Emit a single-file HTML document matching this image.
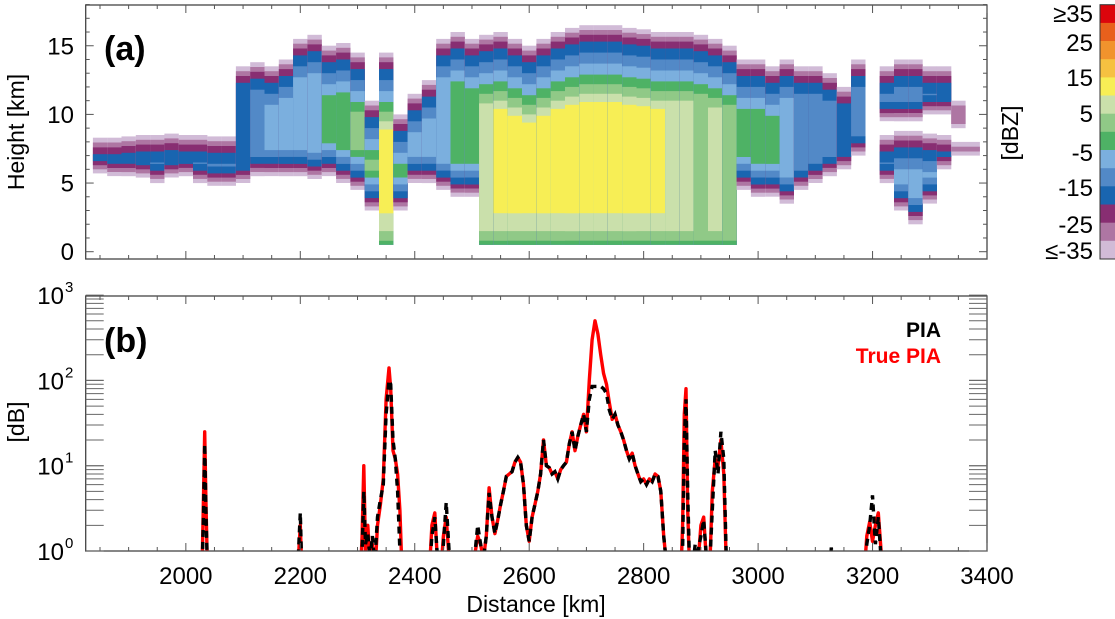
<!DOCTYPE html>
<html><head><meta charset="utf-8"><style>
html,body{margin:0;padding:0;background:#fff;}
svg{display:block;font-family:"Liberation Sans",Arial,sans-serif;}
</style></head><body>
<svg id="fig" width="1115" height="619" viewBox="0 0 1115 619">
<defs>
<clipPath id="clipA"><rect x="85.7" y="5" width="901.3" height="254"/></clipPath>
<clipPath id="clipB"><rect x="85.7" y="296" width="901.3" height="255"/></clipPath>
</defs>
<g id="heat" clip-path="url(#clipA)"></g>
<g id="axA"></g>
<g id="linesB" clip-path="url(#clipB)"></g>
<g id="axB"></g>
<g id="cbar"></g>
<text x="104" y="60" font-size="34" font-weight="bold">(a)</text>
<text x="104" y="352" font-size="34" font-weight="bold">(b)</text>
<text x="941" y="337" font-size="21" font-weight="bold" text-anchor="end" fill="#000">PIA</text>
<text x="941" y="363" font-size="21" font-weight="bold" text-anchor="end" fill="#ff0000">True PIA</text>
<text transform="translate(24,132) rotate(-90)" font-size="23" text-anchor="middle">Height [km]</text>
<text transform="translate(24,422) rotate(-90)" font-size="23" text-anchor="middle">[dB]</text>
<text x="536" y="612" font-size="23" text-anchor="middle">Distance [km]</text>
<text transform="translate(1018,133) rotate(-90)" font-size="23" text-anchor="middle">[dBZ]</text>
</svg>
<script>
// ---- Panel (a) data: per-column cloud structure ----
const colKm   = [1850,1875,1900,1925,1950,1975,2000,2025,2050,2075,2100,2125,2150,2175,2200,2225,2250,2275,2300,2325,2350,2375,2400,2425,2450,2475,2500,2525,2550,2575,2600,2625,2650,2675,2700,2725,2750,2775,2800,2825,2850,2875,2900,2925,2950,2975,3000,3025,3050,3075,3100,3125,3150,3175,3200,3225,3250,3275,3300,3325,3350,3375];
const colTop  = [8.3,8.3,8.4,8.5,8.5,8.6,8.5,8.5,8.4,8.4,13.5,13.8,13.5,14.0,15.5,15.8,15.0,15.2,14.5,11.0,14.5,10.0,11.5,12.5,15.5,16.0,15.5,15.8,16.0,15.5,15.0,15.5,16.0,16.3,16.5,16.5,16.5,16.3,16.2,16.0,16.0,16.0,15.8,15.5,15.0,14.0,14.0,13.5,14.0,13.5,13.5,13.0,12.0,14.0,0,13.5,14.0,14.0,13.5,13.5,11.0,0];
const colBase = [5.7,5.5,5.5,5.4,5.0,5.4,5.5,5.0,4.8,4.8,5.0,5.5,5.5,5.5,5.5,5.3,5.5,5.0,4.5,3.0,0.5,3.0,5.0,5.0,4.5,4.0,4.0,0.5,0.5,0.5,0.5,0.5,0.5,0.5,0.5,0.5,0.5,0.5,0.5,0.5,0.5,0.5,0.5,0.5,0.5,4.5,4.0,4.0,3.5,4.5,5.0,5.5,6.0,7.0,0,9.5,9.5,9.5,10.0,10.0,9.0,0];
const colPeak = [-15,-15,-15,-15,-15,-15,-15,-10,-10,-10,-20,-15,-10,-10,-10,-10,-5,-5,0,0,10,0,-10,-10,-10,-5,-5,5,10,10,10,10,10,10,10,10,10,10,10,10,5,5,0,5,0,-5,-5,-5,-10,-15,-15,-15,-20,-15,-35,-15,-15,-15,-15,-20,-30,-35];
const col2Top  = [0,0,0,0,0,0,0,0,0,0,0,0,0,0,0,0,0,0,0,0,0,0,0,0,0,0,0,0,0,0,0,0,0,0,0,0,0,0,0,0,0,0,0,0,0,0,0,0,0,0,0,0,0,0,0,8.5,8.8,8.8,8.6,8.5,8.0,8.0];
const col2Base = [0,0,0,0,0,0,0,0,0,0,0,0,0,0,0,0,0,0,0,0,0,0,0,0,0,0,0,0,0,0,0,0,0,0,0,0,0,0,0,0,0,0,0,0,0,0,0,0,0,0,0,0,0,0,0,5.0,3.0,2.0,3.5,6.0,7.0,7.0];
const col2Peak = [-35,-35,-35,-35,-35,-35,-35,-35,-35,-35,-35,-35,-35,-35,-35,-35,-35,-35,-35,-35,-35,-35,-35,-35,-35,-35,-35,-35,-35,-35,-35,-35,-35,-35,-35,-35,-35,-35,-35,-35,-35,-35,-35,-35,-35,-35,-35,-35,-35,-35,-35,-35,-35,-35,-35,-15,-10,-10,-10,-15,-30,-30];
const cbarLabels = ["≥35","25","15","5","-5","-15","-25","≤-35"];
const cbarColors = ["#dc050c","#e8601c","#f1932d","#f6c141","#f7ee55","#cae0ab","#90c987","#4eb265","#7bafde","#5289c7","#1965b0","#882e72","#ae76a3","#d1bbd7"];

// ---- Panel (b) data ----
const piaDist = [1825,2028,2031,2033,2035,2038, 2195,2198,2200,2203, 2255,2258,2261,
 2305,2308,2311,2314,2318,2322,2326,2330,2335,2340,2345,2350,2355,2358,2362,2366,2370,2374,2378,2382,
 2425,2430,2435,2440,2445,2450,2455,2460,2465,
 2500,2505,2510,2515,2520,2525,2530,2535,2540,2545,2550,2555,2560,2565,2570,2575,2580,2585,2590,2595,2600,2605,2610,2615,2620,2625,2630,2635,2640,2645,2650,2655,2660,2665,2670,2675,2680,2685,2690,2695,2700,2705,2710,2715,2720,2725,2730,2735,2740,2745,2750,2755,2760,2765,2770,2775,2780,2785,2790,2795,2800,2805,2810,2815,2820,2825,2830,2835,2840,2845,2850,
 2865,2868,2871,2874,2877,2880,2885,2890,2895,2900,2905,2910,2915,2920,2925,2930,2935,2940,2945,2950,
 3125,3128,3131, 3185,3190,3195,3200,3205,3210,3215,3220, 3400];
const piaValues = [0.5,0.5,3,18,3,0.5, 0.5,1.5,2.8,0.5, 0.5,0.95,0.5,
 0.5,1.0,5,1.2,1.6,0.8,1.5,0.7,2.5,4,6,40,100,90,20,12,5,1,0.5,0.5,
 0.5,1.5,2.5,0.8,0.5,1.2,3.7,1.0,0.5,
 0.5,0.9,2.0,1.2,0.8,1.5,4.8,2.5,1.6,2.3,3.5,5,7.5,8,8.5,11,12.5,11,6,2,1.3,2.5,3.5,5,8,20,10,9.5,8,8.5,7,9,10,11,18,25,15,22,30,40,25,60,85,85,85,85,80,70,45,35,40,30,25,20,15,12,14,10,8,6.5,7,6,7,6.5,8,7.5,5,1.5,0.7,0.5,0.5,
 0.5,1,20,60,5,0.8,0.6,1.2,1.0,1.5,2.3,0.8,0.6,3,15,8,25,12,0.6,0.5,
 0.5,1.1,0.5, 0.5,1.2,2,4.5,1.2,2.5,0.8,0.5, 0.5];
const truePiaValues = [0.5,0.5,5,25,4,0.5, 0.5,1.2,2,0.5, 0.5,0.5,0.5,
 0.5,1.5,10,1.0,2,0.7,1.2,0.5,2,3.5,7,60,140,80,15,12,8,3,0.5,0.5,
 0.5,2,2.8,0.7,0.5,1.5,2.5,0.8,0.5,
 0.5,0.9,1.5,1.2,0.8,1.5,5.5,2.5,1.6,2.3,3.5,5,7.5,8,8.5,11,12.5,11,6,2,1.3,2.5,3.5,5,8,20,10,9.5,8,8.5,7,9,10,11,18,25,15,22,30,40,25,100,300,500,350,200,120,90,55,35,40,30,25,20,15,12,14,10,8,6.5,7,6,7,6.5,8,7.5,5,1.5,0.7,0.5,0.5,
 0.5,2,40,80,3,0.7,0.5,1,0.7,2,2.5,0.7,0.5,5,12,10,20,8,0.5,0.5,
 0.5,0.5,0.5, 0.5,1.5,2.2,1.3,2,2.8,1.0,0.5, 0.5];
const xTickLabels = [2000,2200,2400,2600,2800,3000,3200,3400];
const hTickLabels = [0,5,10,15];
const logTickLabels = [0,1,2,3];

const NS = "http://www.w3.org/2000/svg";
const X0 = 85.7, X1 = 987, KM0 = 1825, KM1 = 3400;
function xs(km){ return X0 + (km-KM0)*(X1-X0)/(KM1-KM0); }
function ya(h){ return 251.7 - h*13.73; }
function yb(v){ return 551 - 85.3*Math.log10(Math.max(v,0.5)); }
function mk(tag, attrs, parent){ const e=document.createElementNS(NS,tag); for(const k in attrs) e.setAttribute(k,attrs[k]); parent.appendChild(e); return e; }
const binColors = cbarColors.slice().reverse(); // index 0 = <=-35
// inset (km) from cloud top per reflectivity level
const topInset = [0,0.35,0.7,1.2,2.0,2.8,3.6,4.3,5.0,5.6,6.2,6.6,7,7.4];
const baseInset = [0,0.3,0.6,0.9,1.4,1.9,2.4,2.9,3.3,3.7,4,4.3,4.6,4.9];
const surfInset = [0,0,0,0,0,0,0,0.3,1.0,2.3,3,3.5,4,4.5];

// heatmap
const heat = document.getElementById('heat');
function drawColumn(i, top, base, peak){
  if(top<=0) return;
  const maxIdx = Math.min(13, Math.floor((peak+35)/5));
  const xL = xs(colKm[i]-12.5), xR = xs(colKm[i]+12.6);
  for(let L=0; L<=maxIdx; L++){
    const t = top - topInset[L];
    const b = base<=0.6 ? 0.5 + surfInset[L] : base + baseInset[L];
    if(t<=b) break;
    const r = mk('rect',{x:xL.toFixed(1),y:ya(t).toFixed(1),width:(xR-xL).toFixed(1),height:(ya(b)-ya(t)).toFixed(1),fill:binColors[L]},heat);
    
    
  }
}
for(let i=0;i<colKm.length;i++){
  drawColumn(i,colTop[i],colBase[i],colPeak[i]);
  drawColumn(i,col2Top[i],col2Base[i],col2Peak[i]);
}

// axes helper
function frame(g, top, bottom){
  const r = mk('rect',{x:X0,y:top,width:X1-X0,height:bottom-top,fill:'none',stroke:'#444','stroke-width':1.3},g);
  
  
  for(let km=1850; km<=3400; km+=50){
    const major = km%200===0;
    const len = major?8:4;
    mk('line',{x1:xs(km),x2:xs(km),y1:bottom,y2:bottom-len,stroke:'#555','stroke-width':1},g);
    mk('line',{x1:xs(km),x2:xs(km),y1:top,y2:top+len,stroke:'#555','stroke-width':1},g);
  }
}
const axA = document.getElementById('axA');
frame(axA,5,259);
for(let h=0; h<=18; h++){
  const len = h%5===0?8:4;
  mk('line',{x1:X0,x2:X0+len,y1:ya(h),y2:ya(h),stroke:'#555','stroke-width':1},axA);
  mk('line',{x1:X1,x2:X1-len,y1:ya(h),y2:ya(h),stroke:'#555','stroke-width':1},axA);
}
hTickLabels.forEach(h=>{
  const t = mk('text',{x:74,y:ya(h)+8.5,'font-size':24,'text-anchor':'end'},axA);
  t.textContent = h;
  
  
});

const axB = document.getElementById('axB');
frame(axB,296,551);
for(let d=0; d<3; d++){
  for(let m=1; m<=10; m++){
    const y = yb(m*Math.pow(10,d));
    mk('line',{x1:X0,x2:X0+18,y1:y,y2:y,stroke:'#666','stroke-width':1},axB);
    mk('line',{x1:X1,x2:X1-18,y1:y,y2:y,stroke:'#666','stroke-width':1},axB);
  }
}
logTickLabels.forEach(p=>{
  const t = mk('text',{x:64,y:yb(Math.pow(10,p))+9,'font-size':24,'text-anchor':'end'},axB);
  t.textContent = '10';
  
  
  const s = mk('text',{x:65,y:yb(Math.pow(10,p))-3,'font-size':15,'text-anchor':'start'},axB);
  s.textContent = p;
  
  
});
xTickLabels.forEach(km=>{
  const t = mk('text',{x:xs(km),y:584,'font-size':24,'text-anchor':'middle'},axB);
  t.textContent = km;
  
  
});

// lines
const linesB = document.getElementById('linesB');
function path(vals){ return vals.map((v,i)=>(i?'L':'M')+xs(piaDist[i]).toFixed(1)+','+yb(v).toFixed(1)).join(''); }
const red = mk('path',{d:path(truePiaValues),fill:'none',stroke:'#ff0000','stroke-width':3.4,'stroke-linejoin':'round'},linesB);


const blk = mk('path',{d:path(piaValues),fill:'none',stroke:'#000','stroke-width':3.4,'stroke-dasharray':'7,5'},linesB);



// colorbar
const cbar = document.getElementById('cbar');
const cbTop = 4.7, cbH = (259-4.7)/14;
cbarColors.forEach((c,i)=>{
  const r = mk('rect',{x:1100,y:(cbTop+i*cbH).toFixed(1),width:16,height:(cbH+0.4).toFixed(1),fill:c},cbar);
  
  
});
mk('rect',{x:1100,y:cbTop,width:16,height:259-cbTop,fill:'none',stroke:'#333','stroke-width':1},cbar);
const lblY = [13,42,77,113,152,187,224,250];
cbarLabels.forEach((l,i)=>{
  const t = mk('text',{x:1093,y:lblY[i]+9,'font-size':24,'text-anchor':'end'},cbar);
  t.textContent = l;
  
  
});
</script>
</body></html>
